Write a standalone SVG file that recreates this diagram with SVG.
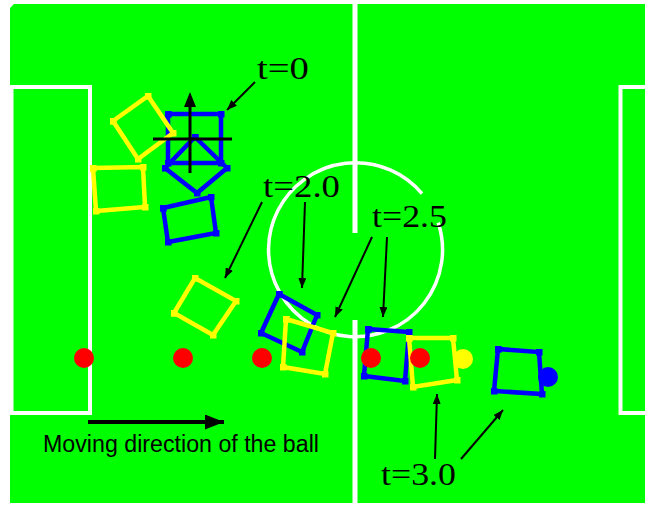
<svg xmlns="http://www.w3.org/2000/svg" width="654" height="506" viewBox="0 0 654 506">
  <defs>
    <style>
      .line { stroke: #ffffff; fill: none; }
      .yr { fill: none; stroke: #ffff00; stroke-width: 4.5; stroke-linejoin: miter; marker: url(#cy); }
      .br { fill: none; stroke: #0000ff; stroke-width: 4.5; stroke-linejoin: miter; marker: url(#cb); }
      .ball { fill: #ff0000; }
      .conn { stroke: #000000; stroke-width: 2; fill: none; marker-end: url(#ah); }
      .lbl { font-family: "Liberation Serif", "Times New Roman", serif; font-size: 31px; fill: #000000; }
      .sans { font-family: "Liberation Sans", Arial, sans-serif; font-size: 23px; fill: #000000; }
    </style>
    <marker id="ah" viewBox="0 0 10 8" refX="10" refY="4" markerWidth="10" markerHeight="8" markerUnits="userSpaceOnUse" orient="auto">
      <path d="M0,0 L10,4 L0,8 Z" fill="#000000"/>
    </marker>
    <marker id="bigah" viewBox="0 0 19 15" refX="19" refY="7.5" markerWidth="19" markerHeight="15" markerUnits="userSpaceOnUse" orient="auto">
      <path d="M0,0 L19,7.5 L0,15 Z" fill="#000000"/>
    </marker>
    <marker id="cy" viewBox="0 0 7 7" refX="3.5" refY="3.5" markerWidth="7" markerHeight="7" markerUnits="userSpaceOnUse" orient="0">
      <rect width="7" height="7" fill="#ffff00"/>
    </marker>
    <marker id="cb" viewBox="0 0 7 7" refX="3.5" refY="3.5" markerWidth="7" markerHeight="7" markerUnits="userSpaceOnUse" orient="0">
      <rect width="7" height="7" fill="#0000ff"/>
    </marker>
  </defs>

  <rect x="0" y="0" width="654" height="506" fill="#ffffff"/>

  <g id="field">
    <path d="M14,4 H645 V503 H10 V8 Z" fill="#00ff00"/>
    <rect class="line" x="11.5" y="87" width="78.5" height="326" stroke-width="4"/>
    <rect class="line" x="620.5" y="87" width="27" height="326" stroke-width="4"/>
    <line class="line" x1="355" y1="4" x2="355" y2="233" stroke-width="5"/>
    <line class="line" x1="355" y1="320" x2="355" y2="503" stroke-width="5"/>
    <path class="line" stroke-width="3.5" d="M422.0,193.6 A87,87 0 1 0 438.2,222.6"/>
  </g>

  <g id="robot-b1"><polygon class="br" points="168,114 221,114 221,163 168,163"/></g>
  <g id="robot-b2"><polygon class="br" points="195,137 227,168 197,193 165,168"/></g>
  <g id="robot-b3"><polygon class="br" points="163,208 211,197 216,233 168,242"/></g>
  <g id="robot-y1"><polygon class="yr" points="113,121 148,96 173,133 138,159"/></g>
  <g id="robot-y2"><polygon class="yr" points="93,168 143,167 145,207 96,211"/></g>
  <g id="robot-y3"><polygon class="yr" points="174,313 195,278 236,301 213,335"/></g>
  <g id="robot-b4"><polygon class="br" points="279,294 317,315 302,352 261,333"/></g>
  <g id="robot-y4"><polygon class="yr" points="286,319 333,333 325,374 283,367"/></g>
  <g id="robot-b5"><polygon class="br" points="368,329 409,332 405,381 364,376"/></g>
  <g id="robot-y5"><polygon class="yr" points="409,338 453,338 457,380 413,387"/></g>
  <g id="robot-b6"><polygon class="br" points="498,349 539,352 542,394 494,391"/></g>

  <g id="balls">
    <circle class="ball" cx="84" cy="358" r="10"/>
    <circle class="ball" cx="183" cy="358" r="10"/>
    <circle class="ball" cx="262" cy="358" r="10"/>
    <circle class="ball" cx="371" cy="358" r="10"/>
    <circle class="ball" cx="420" cy="358" r="10"/>
    <circle cx="463" cy="359" r="10" fill="#ffff00"/>
    <circle cx="548" cy="377" r="10" fill="#0000ff"/>
  </g>

  <g id="heading-marker">
    <line x1="153" y1="139" x2="232" y2="139" stroke="#000000" stroke-width="3"/>
    <line x1="190" y1="173" x2="190" y2="106" stroke="#000000" stroke-width="3"/>
    <path d="M190,92 L196,107 L184,107 Z" fill="#000000"/>
  </g>

  <g id="connectors">
    <line class="conn" x1="255" y1="82" x2="227" y2="110"/>
    <line class="conn" x1="262" y1="202" x2="225" y2="278"/>
    <line class="conn" x1="305" y1="202" x2="302" y2="288"/>
    <line class="conn" x1="372" y1="237" x2="335" y2="317"/>
    <line class="conn" x1="387" y1="237" x2="383" y2="317"/>
    <line class="conn" x1="435" y1="459" x2="437" y2="394"/>
    <line class="conn" x1="461" y1="459" x2="503" y2="410"/>
    <line x1="88" y1="422" x2="224" y2="422" stroke="#000000" stroke-width="4" marker-end="url(#bigah)"/>
  </g>

  <g id="labels">
    <text class="lbl" x="257" y="79" textLength="52" lengthAdjust="spacingAndGlyphs">t=0</text>
    <text class="lbl" x="263" y="197" textLength="77" lengthAdjust="spacingAndGlyphs">t=2.0</text>
    <text class="lbl" x="372" y="227" textLength="75" lengthAdjust="spacingAndGlyphs">t=2.5</text>
    <text class="lbl" x="381" y="485" textLength="75" lengthAdjust="spacingAndGlyphs">t=3.0</text>
    <text class="sans" x="43" y="452" textLength="276" lengthAdjust="spacingAndGlyphs">Moving direction of the ball</text>
  </g>
</svg>
